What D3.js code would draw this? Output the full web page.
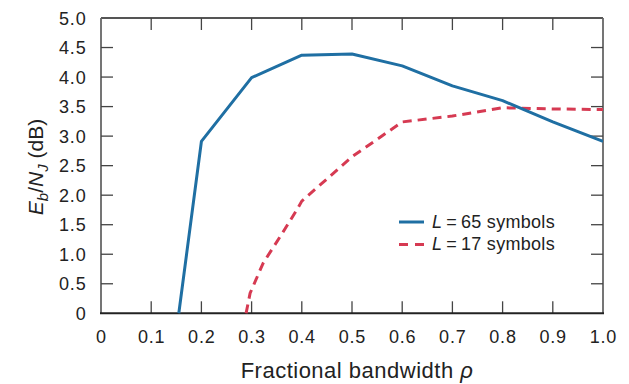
<!DOCTYPE html>
<html><head><meta charset="utf-8">
<script src="https://cdn.jsdelivr.net/npm/d3@7"></script>
<style>body{margin:0;background:#fff}svg{display:block}text{font-family:"Liberation Sans",Arial,sans-serif;fill:#222}</style>
</head><body><svg id="c" width="629" height="384"></svg>
<script>
const xTicks = [0,0.1,0.2,0.3,0.4,0.5,0.6,0.7,0.8,0.9,1.0];
const xTickLabels = ["0","0.1","0.2","0.3","0.4","0.5","0.6","0.7","0.8","0.9","1.0"];
const yTicks = [0,0.5,1,1.5,2,2.5,3,3.5,4,4.5,5];
const yTickLabels = ["0","0.5","1.0","1.5","2.0","2.5","3.0","3.5","4.0","4.5","5.0"];
const l65X = [0.155,0.2,0.3,0.4,0.5,0.6,0.7,0.8,0.9,1.0];
const l65Y = [0,2.91,3.99,4.37,4.39,4.19,3.85,3.60,3.24,2.91];
const l17X = [0.289,0.297,0.323,0.357,0.39,0.4,0.5,0.6,0.7,0.8,0.9,1.0];
const l17Y = [0,0.34,0.85,1.3,1.75,1.9,2.65,3.24,3.34,3.48,3.46,3.45];
const seriesNames = ["65","17"];

const svg = d3.select("#c");
const L=101, R=603, T=18, B=313.3;
const x = d3.scaleLinear().domain([0,1]).range([L,R]);
const y = d3.scaleLinear().domain([0,5]).range([B,T]);

// frame
const g = svg.append("g");
g.append("line").attr("x1",L).attr("x2",R).attr("y1",T).attr("y2",T).attr("stroke","#555").attr("stroke-width",1.8);
g.append("line").attr("x1",R).attr("x2",R).attr("y1",T).attr("y2",B).attr("stroke","#666").attr("stroke-width",1.8);
g.append("line").attr("x1",L).attr("x2",L).attr("y1",T).attr("y2",B).attr("stroke","#666").attr("stroke-width",1.8);

// ticks inward
const tl=12;
xTicks.slice(1,-1).forEach(v=>{
  g.append("line").attr("x1",x(v)).attr("x2",x(v)).attr("y1",B).attr("y2",B-tl).attr("stroke","#444").attr("stroke-width",1.3);
  g.append("line").attr("x1",x(v)).attr("x2",x(v)).attr("y1",T).attr("y2",T+tl).attr("stroke","#444").attr("stroke-width",1.3);
});
yTicks.slice(1,-1).forEach(v=>{
  g.append("line").attr("x1",L).attr("x2",L+tl).attr("y1",y(v)).attr("y2",y(v)).attr("stroke","#444").attr("stroke-width",1.3);
  g.append("line").attr("x1",R).attr("x2",R-tl).attr("y1",y(v)).attr("y2",y(v)).attr("stroke","#444").attr("stroke-width",1.3);
});
g.append("line").attr("x1",L-1).attr("x2",R+1).attr("y1",B).attr("y2",B).attr("stroke","#222").attr("stroke-width",2);

// labels
xTicks.forEach((v,i)=>{
  g.append("text").attr("x",x(v)+0.4).attr("y",343).attr("text-anchor","middle").attr("font-size",18)
    .attr("letter-spacing",0.8).text(xTickLabels[i]);
});
yTicks.forEach((v,i)=>{
  g.append("text").attr("x",86.5).attr("y",y(v)+6.5).attr("text-anchor","end").attr("font-size",18)
    .attr("letter-spacing",0.8).text(yTickLabels[i]);
});

svg.append("text").attr("x",357).attr("y",378).attr("text-anchor","middle").attr("font-size",22)
  .attr("letter-spacing",0.5)
  .html('Fractional bandwidth <tspan font-style="italic">ρ</tspan>');

const yt = svg.append("text").attr("transform","translate(43,167) rotate(-90)").attr("text-anchor","middle").attr("font-size",21);
yt.append("tspan").attr("font-style","italic").text("E");
yt.append("tspan").attr("font-style","italic").attr("font-size",15).attr("dy",5).text("b");
yt.append("tspan").attr("dy",-5).text("/");
yt.append("tspan").attr("font-style","italic").text("N");
yt.append("tspan").attr("font-style","italic").attr("font-size",15).attr("dy",5).text("J");
yt.append("tspan").attr("dy",-5).text(" (dB)");

// lines
const line = d3.line().x(d=>x(d[0])).y(d=>y(d[1]));
svg.append("clipPath").attr("id","cp").append("rect").attr("x",L).attr("y",T).attr("width",R-L).attr("height",B-T+1);
svg.append("path").datum(l17X.map((v,i)=>[v,l17Y[i]])).attr("d",line).attr("fill","none")
  .attr("stroke","#d63a52").attr("stroke-width",3).attr("stroke-dasharray","9,6").attr("clip-path","url(#cp)");
svg.append("path").datum(l65X.map((v,i)=>[v,l65Y[i]])).attr("d",line).attr("fill","none")
  .attr("stroke","#1f6fa3").attr("stroke-width",3).attr("stroke-linejoin","round").attr("clip-path","url(#cp)");

// legend
const lg = svg.append("g");
lg.append("line").attr("x1",399).attr("x2",424).attr("y1",222).attr("y2",222).attr("stroke","#1f6fa3").attr("stroke-width",3);
lg.append("line").attr("x1",399).attr("x2",424).attr("y1",244.5).attr("y2",244.5).attr("stroke","#d63a52").attr("stroke-width",3).attr("stroke-dasharray","9,7");
[0,1].forEach(i=>{
  const t = lg.append("text").attr("x",432).attr("y",227.5+i*22.5).attr("font-size",18).attr("letter-spacing",0.3);
  t.append("tspan").attr("font-style","italic").text("L");
  t.append("tspan").text("\u2009=\u2009" + seriesNames[i] + " symbols");
});
</script></body></html>
